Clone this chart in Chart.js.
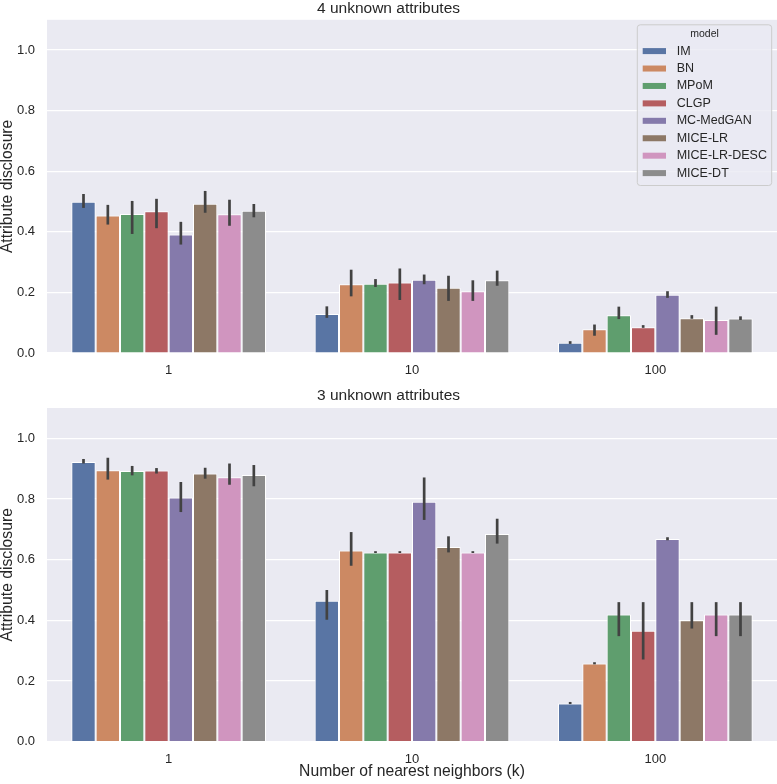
<!DOCTYPE html>
<html lang="en">
<head>
<meta charset="UTF-8">
<title>Attribute disclosure vs number of nearest neighbors</title>
<script src="https://cdn.jsdelivr.net/npm/chart.js"></script>
<style>
  body { margin: 0; background: #fff; }
  canvas { position: absolute; left: 0; }
  #topChart { top: 0; }
  #bottomChart { top: 380px; }
</style>
</head>
<body>
<canvas id="topChart" width="777" height="380"></canvas>
<canvas id="bottomChart" width="777" height="404"></canvas>
<script>
const models = ['IM', 'BN', 'MPoM', 'CLGP', 'MC-MedGAN', 'MICE-LR', 'MICE-LR-DESC', 'MICE-DT'];
const kLabels = ['1', '10', '100'];
const colors = ['#5975a4', '#cc8963', '#5f9e6e', '#b55d60', '#857aab', '#8d7866', '#d095bf', '#8c8c8c'];
const yTicks = [0, 0.2, 0.4, 0.6, 0.8, 1.0];

// 4 unknown attributes, one row per model, values for k = 1, 10, 100
const mean4 = [
  [0.499, 0.129, 0.034],
  [0.454, 0.227, 0.078],
  [0.459, 0.229, 0.125],
  [0.468, 0.233, 0.085],
  [0.391, 0.242, 0.192],
  [0.493, 0.215, 0.115],
  [0.458, 0.204, 0.109],
  [0.470, 0.240, 0.114]
];
const low4 = [
  [0.479, 0.116, 0.030],
  [0.424, 0.187, 0.057],
  [0.393, 0.218, 0.112],
  [0.412, 0.175, 0.083],
  [0.358, 0.227, 0.182],
  [0.463, 0.172, 0.113],
  [0.420, 0.172, 0.060],
  [0.448, 0.222, 0.109]
];
const high4 = [
  [0.525, 0.154, 0.039],
  [0.489, 0.275, 0.094],
  [0.502, 0.244, 0.153],
  [0.509, 0.279, 0.092],
  [0.433, 0.259, 0.204],
  [0.535, 0.255, 0.125],
  [0.506, 0.240, 0.153],
  [0.492, 0.272, 0.121]
];

// 3 unknown attributes
const mean3 = [
  [0.922, 0.465, 0.126],
  [0.895, 0.630, 0.258],
  [0.892, 0.624, 0.419],
  [0.894, 0.624, 0.366],
  [0.805, 0.791, 0.668],
  [0.884, 0.642, 0.400],
  [0.872, 0.624, 0.419],
  [0.879, 0.685, 0.419]
];
const low3 = [
  [0.917, 0.402, 0.124],
  [0.864, 0.580, 0.255],
  [0.878, 0.622, 0.348],
  [0.884, 0.622, 0.271],
  [0.757, 0.731, 0.664],
  [0.867, 0.624, 0.373],
  [0.847, 0.622, 0.348],
  [0.842, 0.653, 0.348]
];
const high3 = [
  [0.932, 0.500, 0.131],
  [0.936, 0.691, 0.262],
  [0.909, 0.628, 0.460],
  [0.902, 0.628, 0.460],
  [0.856, 0.871, 0.674],
  [0.903, 0.677, 0.460],
  [0.917, 0.628, 0.460],
  [0.912, 0.735, 0.460]
];

const FONT = '"Liberation Sans", Arial, Helvetica, sans-serif';
const TEXT = '#262626';

// seaborn-like grey panel behind the grid
const panelBg = {
  id: 'panelBg',
  beforeDraw(chart) {
    const { ctx, chartArea: a } = chart;
    ctx.save();
    ctx.fillStyle = '#eaeaf2';
    ctx.fillRect(a.left, a.top, a.right - a.left, a.bottom - a.top);
    ctx.restore();
  }
};

// confidence interval lines on top of each bar
const errorBars = {
  id: 'errorBars',
  afterDatasetsDraw(chart) {
    const { ctx } = chart;
    const y = chart.scales.y;
    ctx.save();
    ctx.strokeStyle = '#424242';
    ctx.lineWidth = 2.7;
    ctx.lineCap = 'butt';
    chart.data.datasets.forEach((ds, i) => {
      chart.getDatasetMeta(i).data.forEach((bar, j) => {
        ctx.beginPath();
        ctx.moveTo(bar.x, y.getPixelForValue(ds.low[j]));
        ctx.lineTo(bar.x, y.getPixelForValue(ds.high[j]));
        ctx.stroke();
      });
    });
    ctx.restore();
  }
};

// legend box with title "model", upper right inside the plot
const modelLegend = {
  id: 'modelLegend',
  afterDraw(chart) {
    const { ctx, chartArea: a } = chart;
    const w = 134.4, h = 160.7;
    const x = a.right - 5.3 - w, y = a.top + 5;
    ctx.save();
    ctx.beginPath();
    ctx.roundRect(x, y, w, h, 3);
    ctx.fillStyle = 'rgba(234,234,242,0.8)';
    ctx.fill();
    ctx.strokeStyle = '#cccccc';
    ctx.lineWidth = 1;
    ctx.stroke();
    ctx.textBaseline = 'middle';
    ctx.fillStyle = TEXT;
    ctx.textAlign = 'center';
    ctx.font = '10.5px ' + FONT;
    ctx.fillText('model', x + w / 2, y + 9.7);
    ctx.textAlign = 'left';
    ctx.font = '12.5px ' + FONT;
    chart.data.datasets.forEach((ds, i) => {
      const ry = y + 26.3 + i * 17.43;
      ctx.fillStyle = ds.backgroundColor;
      ctx.fillRect(x + 5.4, ry - 3, 23.3, 6);
      ctx.fillStyle = TEXT;
      ctx.fillText(ds.label, x + 39.4, ry);
    });
    ctx.restore();
  }
};

function makePanel(id, title, means, lows, highs, opts) {
  const datasets = models.map((m, i) => ({
    label: m,
    data: means[i],
    low: lows[i],
    high: highs[i],
    backgroundColor: colors[i],
    borderColor: '#ffffff',
    borderWidth: 1,
    categoryPercentage: 0.8,
    barPercentage: 1.0
  }));

  return new Chart(document.getElementById(id), {
    type: 'bar',
    data: { labels: kLabels, datasets: datasets },
    options: {
      responsive: false,
      animation: false,
      layout: { padding: 0 },
      plugins: {
        legend: { display: false },
        tooltip: { enabled: false },
        title: {
          display: true,
          text: title,
          color: TEXT,
          font: { family: FONT, size: 15.5, weight: 'normal', lineHeight: 1 },
          padding: { top: opts.titleTop, bottom: opts.titleBottom }
        }
      },
      scales: {
        x: {
          grid: { display: false, drawTicks: false },
          border: { display: false },
          ticks: { color: TEXT, font: { family: FONT, size: 13 }, padding: 9.5 },
          title: {
            display: !!opts.xTitle,
            text: opts.xTitle || '',
            color: TEXT,
            font: { family: FONT, size: 15.7, lineHeight: 1.2 },
            padding: { top: 0, bottom: 3 }
          },
          afterFit(s) { s.height = opts.xHeight; }
        },
        y: {
          min: 0,
          max: 1.1,
          grid: { color: '#ffffff', lineWidth: 1.2, drawTicks: false },
          border: { display: false },
          ticks: {
            color: TEXT,
            font: { family: FONT, size: 13 },
            padding: 12,
            callback: v => v.toFixed(1)
          },
          afterBuildTicks(s) { s.ticks = yTicks.map(v => ({ value: v })); },
          title: {
            display: true,
            text: 'Attribute disclosure',
            color: TEXT,
            font: { family: FONT, size: 15.7, lineHeight: 1 },
            padding: { top: 0, bottom: 0 }
          },
          afterFit(s) { s.width = 47; }
        }
      }
    },
    plugins: opts.legend ? [panelBg, errorBars, modelLegend] : [panelBg, errorBars]
  });
}

makePanel('topChart', '4 unknown attributes', mean4, low4, high4,
  { titleTop: 0, titleBottom: 3.5, xHeight: 27, legend: true });
makePanel('bottomChart', '3 unknown attributes', mean3, low3, high3,
  { titleTop: 7.75, titleBottom: 4.75, xHeight: 42.3, xTitle: 'Number of nearest neighbors (k)' });
</script>
</body>
</html>
